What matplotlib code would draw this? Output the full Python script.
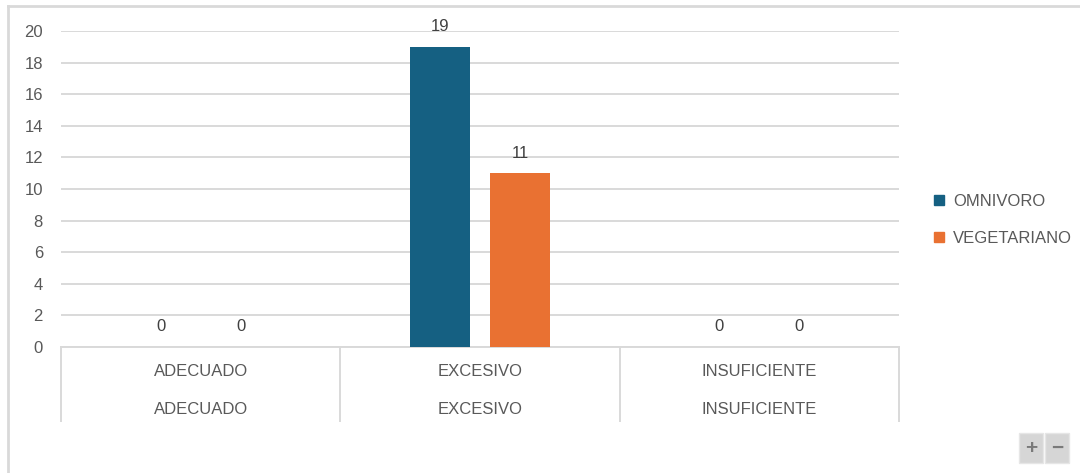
import matplotlib
matplotlib.use("Agg")
import matplotlib.pyplot as plt
import numpy as np
from matplotlib.lines import Line2D
from matplotlib.patches import Rectangle

categories = ["ADECUADO", "EXCESIVO", "INSUFICIENTE"]
series_names = ["OMNIVORO", "VEGETARIANO"]
omnivoro = [0, 19, 0]
vegetariano = [0, 11, 0]
colors = ["#156082", "#E97132"]
yticks = [0, 2, 4, 6, 8, 10, 12, 14, 16, 18, 20]

plt.rcParams['font.family'] = ['Liberation Sans', 'DejaVu Sans']
W, H = 1080, 473
fig = plt.figure(figsize=(W / 100, H / 100), dpi=100)
fig.patch.set_facecolor("white")

ax_l, ax_r, ax_t, ax_b = 61, 899, 31, 347
ax = fig.add_axes([ax_l / W, (H - ax_b) / H, (ax_r - ax_l) / W, (ax_b - ax_t) / H])

x = np.arange(len(categories))
bw = 0.215
off = 0.143
txt = "#595959"
grid = "#d9d9d9"
fs = 12
for vals, name, c, o in [(omnivoro, series_names[0], colors[0], -off),
                         (vegetariano, series_names[1], colors[1], off)]:
    ax.bar(x + o, vals, width=bw, color=c, label=name, zorder=3)
    for xi, v in zip(x + o, vals):
        ax.annotate(str(v), (xi, v), xytext=(0, 14.5), textcoords="offset points",
                    ha="center", va="center", fontsize=fs, color="#404040")

ax.set_xlim(-0.5, len(categories) - 0.5)
ax.set_ylim(0, 20)
ax.set_yticks(yticks)
ax.set_yticklabels([str(t) for t in yticks], fontsize=fs, color=txt)
ax.tick_params(axis="y", length=0, pad=13)
ax.set_xticks([])
for s in ax.spines.values():
    s.set_visible(False)
ax.grid(axis="y", color=grid, linewidth=1.4, zorder=0)
ax.set_axisbelow(True)

# category box lines
box_h = (421 - 347) / (ax_b - ax_t)
for b in np.arange(-0.5, len(categories), 1.0):
    ax.plot([b, b], [0, -box_h], transform=ax.get_xaxis_transform(), color=grid,
            linewidth=1.4, clip_on=False)
ax.plot([-0.5, len(categories) - 0.5], [0, 0], transform=ax.get_xaxis_transform(),
        color=grid, linewidth=1.4, clip_on=False)
r1 = (347 - 372) / (ax_b - ax_t)
r2 = (347 - 409) / (ax_b - ax_t)
for xi, c in zip(x, categories):
    ax.text(xi, r1, c, transform=ax.get_xaxis_transform(), ha="center", va="center",
            fontsize=fs, color=txt)
    ax.text(xi, r2, c, transform=ax.get_xaxis_transform(), ha="center", va="center",
            fontsize=fs, color=txt)

# legend
handles = [Line2D([0], [0], marker="s", linestyle="none", markersize=7,
                  markerfacecolor=c, markeredgecolor=c) for c in colors]
fig.legend(handles, series_names, loc="center left",
           bbox_to_anchor=(917 / W, 1 - 220 / H), frameon=False, fontsize=fs,
           labelcolor=txt, handlelength=0.8, handletextpad=0.45, labelspacing=1.35)

# outer border
fig.add_artist(Line2D([8 / W, 8 / W], [0, 1 - 6 / H], color="#d9d9d9", linewidth=2,
                      transform=fig.transFigure))
fig.add_artist(Line2D([8 / W, 1], [1 - 6 / H, 1 - 6 / H], color="#d9d9d9", linewidth=2,
                      transform=fig.transFigure))

# zoom buttons
for x0, sym in [(1019, "+"), (1045, "\u2212")]:
    fig.add_artist(Rectangle((x0 / W, 1 - 463 / H), 24 / W, 30 / H, transform=fig.transFigure,
                             facecolor="#d6d6d6", edgecolor="#e6e6e6", linewidth=1))
    fig.text((x0 + 12) / W, 1 - 448 / H, sym, ha="center", va="center", fontsize=15,
             color="#7a7a7a", fontweight="bold")

fig.savefig("out.png", dpi=100)
